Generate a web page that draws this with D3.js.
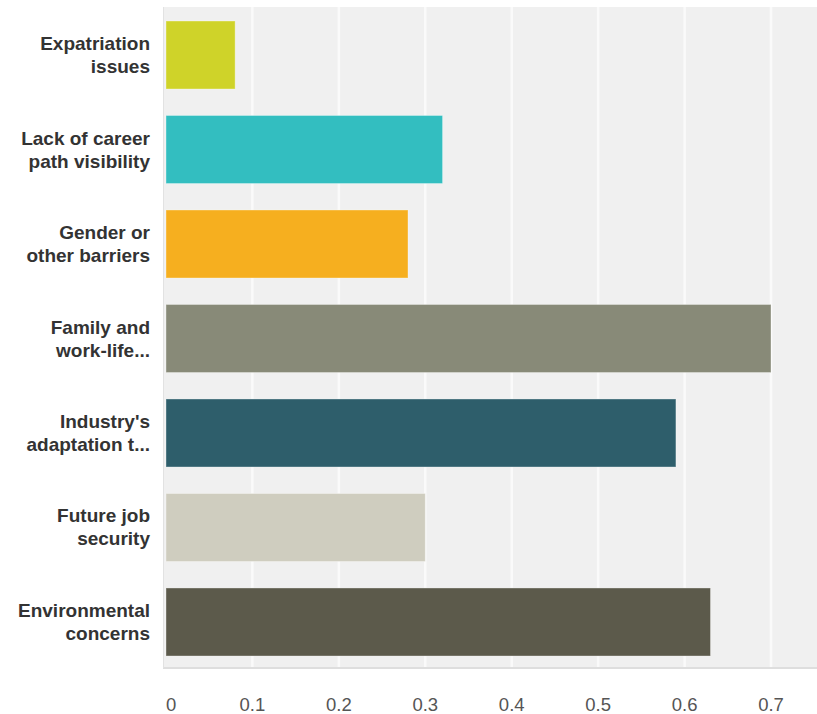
<!DOCTYPE html>
<html>
<head>
<meta charset="utf-8">
<script src="https://cdn.jsdelivr.net/npm/d3@7"></script>
<style>
  body { margin: 0; background: #fff; }
  svg { display: block; font-family: "Liberation Sans", Arial, sans-serif; }
  .cat-label { font-size: 19px; font-weight: bold; fill: #333; }
  .tick-label { font-size: 18.5px; fill: #555; }
</style>
</head>
<body>
<div id="chart"></div>
<script>
// Horizontal bar chart
const categories = [
    ["Expatriation", "issues"],
    ["Lack of career", "path visibility"],
    ["Gender or", "other barriers"],
    ["Family and", "work-life..."],
    ["Industry's", "adaptation t..."],
    ["Future job", "security"],
    ["Environmental", "concerns"]
];
const values = [0.08, 0.32, 0.28, 0.70, 0.59, 0.30, 0.63];
const colors = ["#cfd329", "#33bec0", "#f6af1f", "#888a78", "#2e5e6b", "#cfcdbf", "#5c5a4b"];
const ticks = [0, 0.1, 0.2, 0.3, 0.4, 0.5, 0.6, 0.7];

const width = 817, height = 714;
const plot = { left: 163, top: 7, right: 817, bottom: 668 };

const x = d3.scaleLinear()
    .domain([0, 0.7])
    .range([166, 771]);

const y = d3.scaleBand()
    .domain(d3.range(categories.length))
    .range([7, 670])
    .paddingInner(0.28)
    .paddingOuter(0.148);

const svg = d3.select("#chart")
    .append("svg")
    .attr("width", width)
    .attr("height", height);

// Plot background
svg.append("rect")
    .attr("x", plot.left)
    .attr("y", plot.top)
    .attr("width", plot.right - plot.left)
    .attr("height", plot.bottom - plot.top)
    .attr("fill", "#f0f0f0");

svg.append("line")
    .attr("x1", plot.left).attr("x2", plot.right)
    .attr("y1", plot.bottom).attr("y2", plot.bottom)
    .attr("stroke", "#dedede")
    .attr("stroke-width", 2);

svg.append("line")
    .attr("x1", plot.left + 0.5).attr("x2", plot.left + 0.5)
    .attr("y1", plot.top).attr("y2", plot.bottom)
    .attr("stroke", "#e2e2e2")
    .attr("stroke-width", 1);

// Gridlines
svg.selectAll(".grid")
    .data(ticks.slice(1))
    .enter()
    .append("line")
    .attr("class", "grid")
    .attr("x1", d => x(d)).attr("x2", d => x(d))
    .attr("y1", plot.top).attr("y2", plot.bottom - 1)
    .attr("stroke", "#fafafa")
    .attr("stroke-width", 2.5);

// Bars
svg.selectAll(".bar")
    .data(values)
    .enter()
    .append("rect")
    .attr("class", "bar")
    .attr("x", x(0))
    .attr("y", (d, i) => y(i))
    .attr("width", d => x(d) - x(0))
    .attr("height", y.bandwidth())
    .attr("fill", (d, i) => colors[i])
    .attr("stroke", "rgba(255,255,255,0.35)")
    .attr("stroke-width", 1);

// Category labels
const labels = svg.selectAll(".cat-label")
    .data(categories)
    .enter()
    .append("text")
    .attr("class", "cat-label")
    .attr("text-anchor", "end")
    .attr("y", (d, i) => y(i) + y.bandwidth() / 2);

labels.selectAll("tspan")
    .data(d => d)
    .enter()
    .append("tspan")
    .attr("x", 150)
    .attr("dy", (d, i) => i === 0 ? -5 : 23)
    .text(d => d);

// Tick labels
svg.selectAll(".tick-label")
    .data(ticks)
    .enter()
    .append("text")
    .attr("class", "tick-label")
    .attr("x", d => x(d))
    .attr("y", 711)
    .attr("text-anchor", d => d === 0 ? "start" : "middle")
    .text(d => d);
</script>
</body>
</html>
